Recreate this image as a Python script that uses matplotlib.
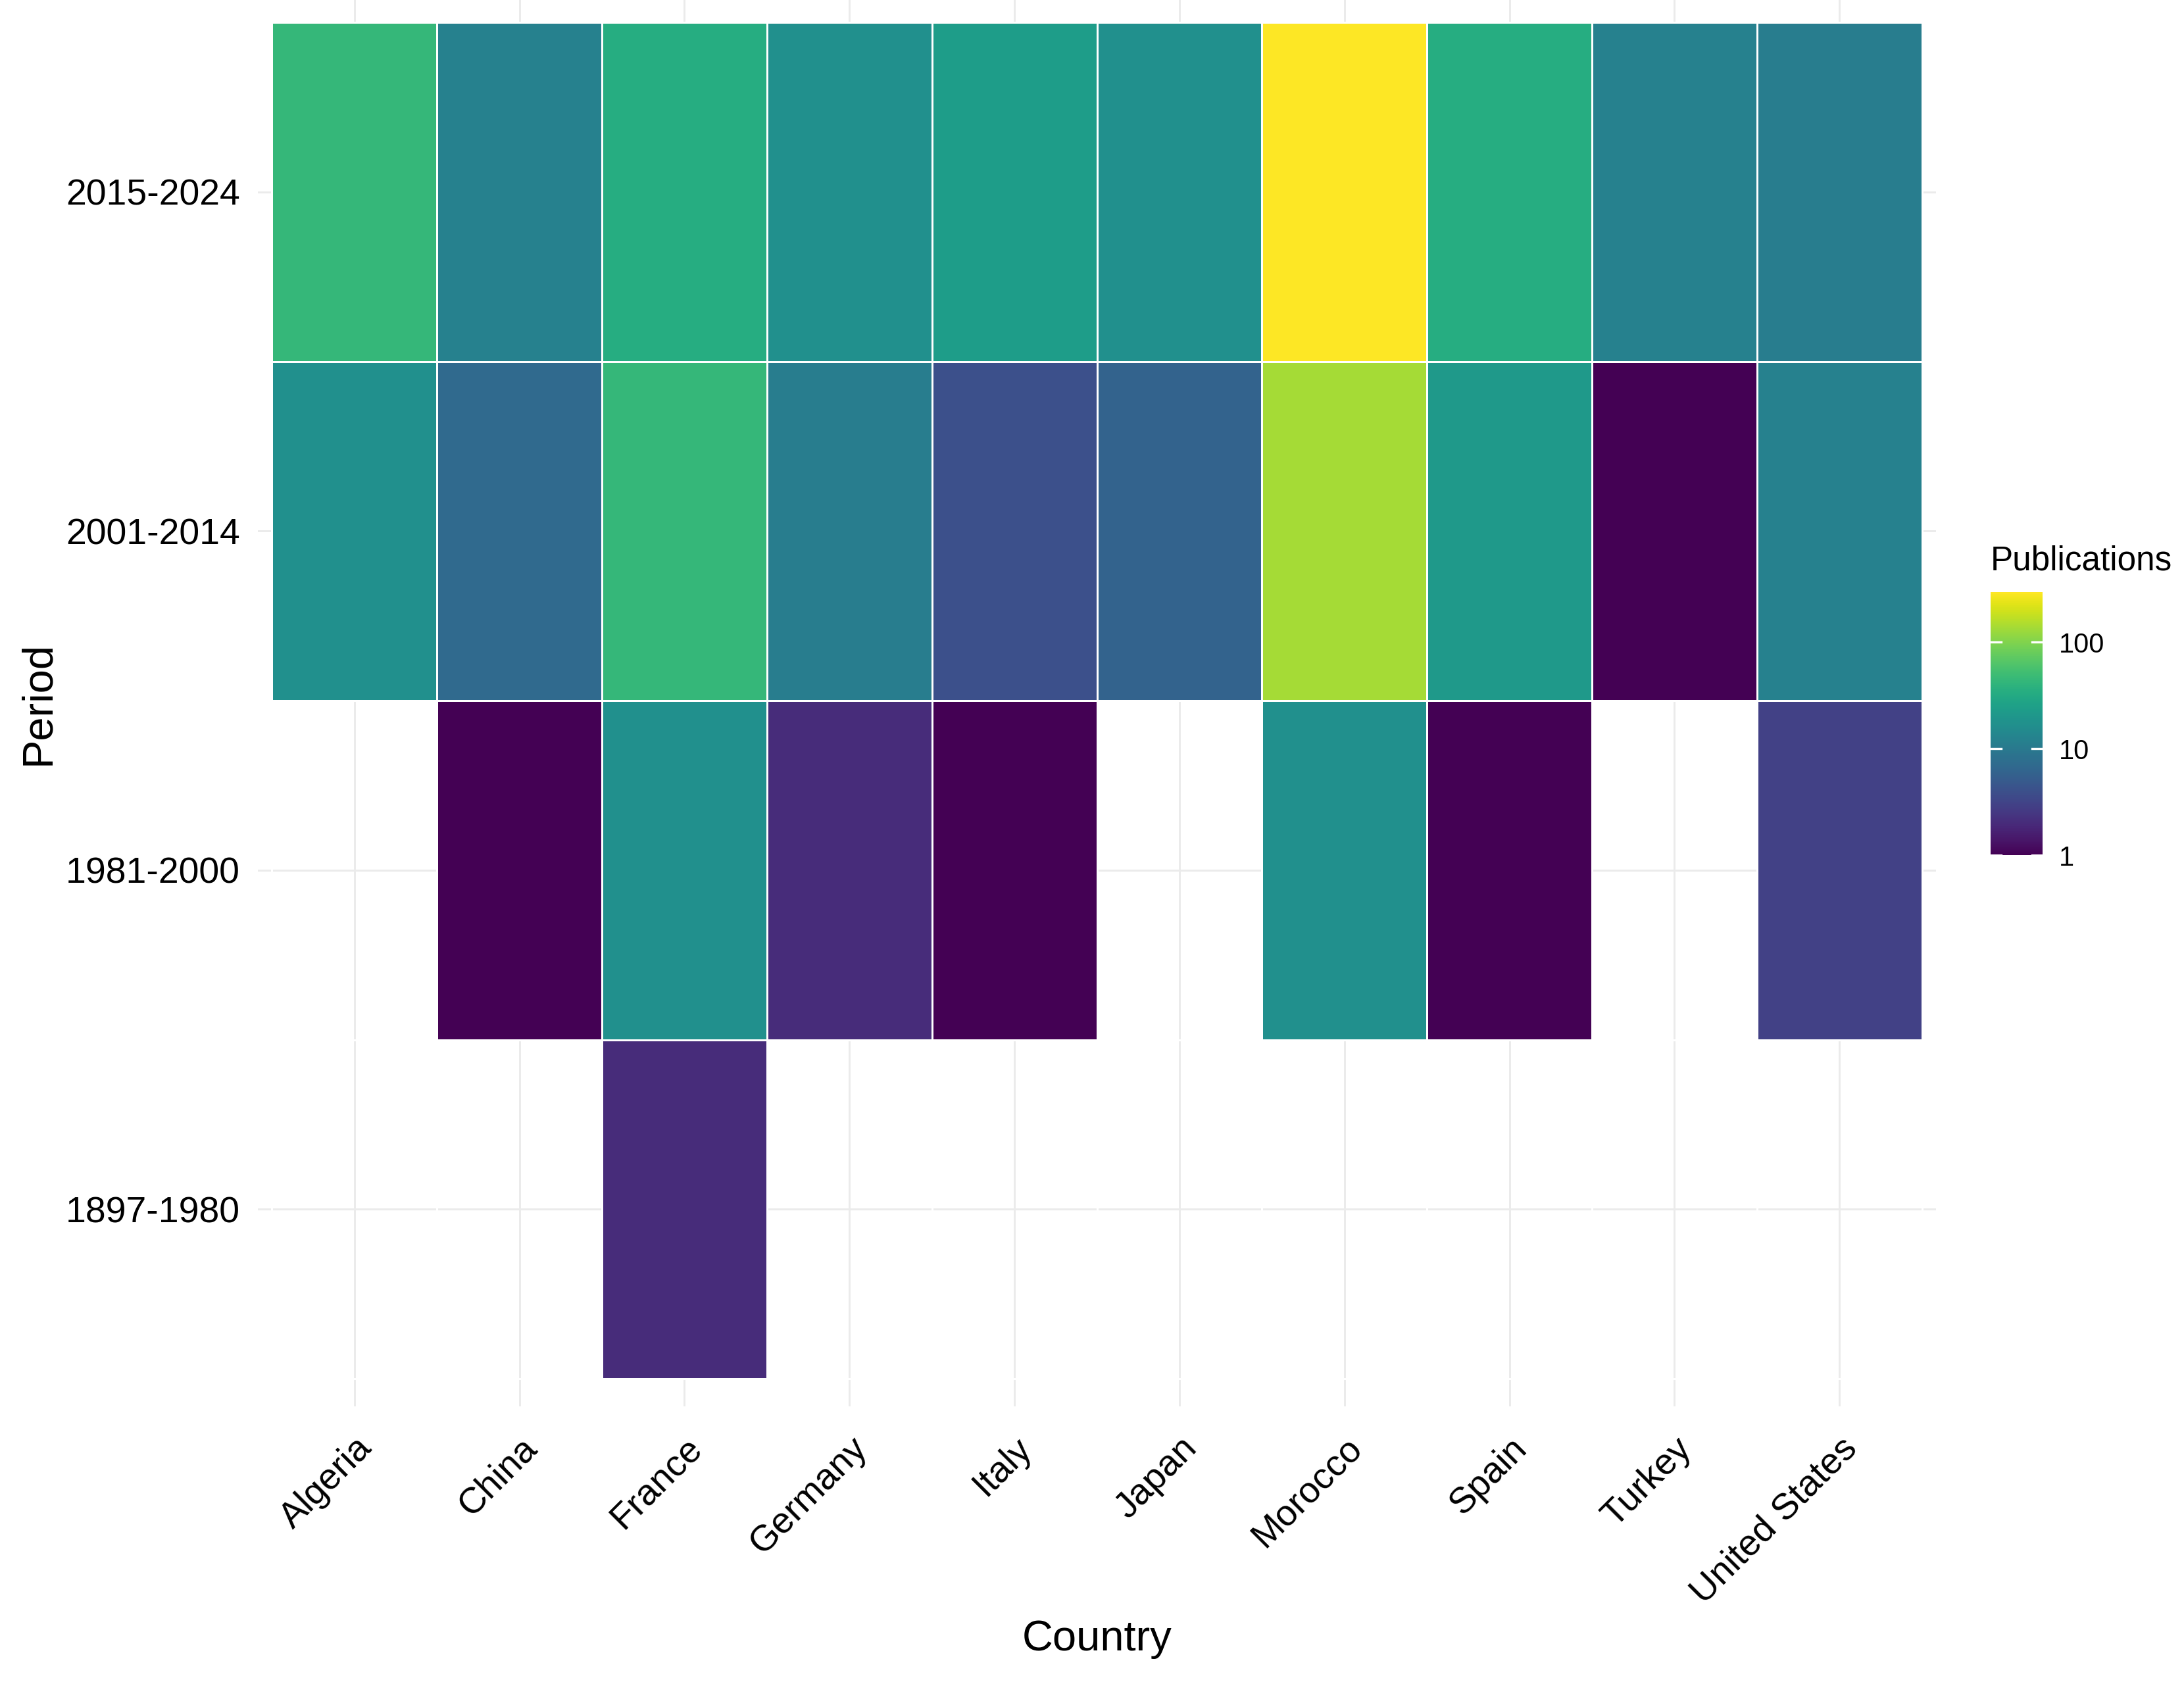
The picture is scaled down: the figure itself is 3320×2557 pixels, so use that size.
import numpy as np
import matplotlib
matplotlib.use("Agg")
import matplotlib.pyplot as plt
from matplotlib.colors import LogNorm
import matplotlib.transforms as mtransforms

countries = ["Algeria", "China", "France", "Germany", "Italy", "Japan",
             "Morocco", "Spain", "Turkey", "United States"]
periods = ["1897-1980", "1981-2000", "2001-2014", "2015-2024"]  # bottom to top

# Publications per period (NaN = no data)
p_1897_1980 = [np.nan, np.nan, 2, np.nan, np.nan, np.nan, np.nan, np.nan, np.nan, np.nan]
p_1981_2000 = [np.nan, 1, 17, 2, 1, np.nan, 17, 1, np.nan, 3]
p_2001_2014 = [17, 7, 44, 11, 4, 6, 137, 21, 1, 12]
p_2015_2024 = [44, 12, 34, 17, 23, 17, 295, 34, 12, 11]

colorbar_ticks = [1, 10, 100]

plt.rcParams['font.family'] = ['Liberation Sans', 'DejaVu Sans']

W, H = 3320, 2557
fig = plt.figure(figsize=(W / 300, H / 300), dpi=300)
ax = fig.add_axes([392 / W, 1 - 2138 / H, (2943 - 392) / W, 2138 / H])

data = np.ma.masked_invalid(np.array([p_1897_1980, p_1981_2000, p_2001_2014, p_2015_2024], dtype=float))
vmax = np.nanmax(data.filled(np.nan))
norm = LogNorm(vmin=1, vmax=vmax)

nx, ny = len(countries), len(periods)
xe = np.arange(nx + 1) - 0.5
ye = np.arange(ny + 1) - 0.5

# grid lines
for i in range(nx):
    ax.axvline(i, color='#ebebeb', lw=0.7, zorder=0)
for j in range(ny):
    ax.axhline(j, color='#ebebeb', lw=0.7, zorder=0)

mesh = ax.pcolormesh(xe, ye, data, cmap='viridis', norm=norm,
                     edgecolors='white', linewidth=0.3, zorder=2)

ax.set_xlim(-0.5 - 0.085, nx - 0.5 + 0.085)
ax.set_ylim(-0.5 - 0.081, ny - 0.5 + 0.066)

ax.set_xticks(range(nx))
ax.set_xticklabels(countries, rotation=45, ha='right', va='top',
                   rotation_mode='anchor', fontsize=13.3, color='black')
ax.set_yticks(range(ny))
ax.set_yticklabels(periods, fontsize=13.3, color='black')
ax.tick_params(axis='both', length=0)
ax.tick_params(axis='y', pad=6.5)
ax.tick_params(axis='x', pad=9)
for s in ax.spines.values():
    s.set_visible(False)

ax.set_xlabel("Country", fontsize=15.6, labelpad=3.5)
ax.set_ylabel("Period", fontsize=15.6)
ax.yaxis.set_label_coords(-0.119, 0.5)

# colorbar
cax = fig.add_axes([3026 / W, 1 - 1300 / H, 79 / W, 400 / H])
cb = fig.colorbar(mesh, cax=cax)
cb.outline.set_visible(False)
cb.set_ticks(colorbar_ticks)
cb.set_ticklabels([str(t) for t in colorbar_ticks])
cb.minorticks_off()
cax.tick_params(length=0, labelsize=10, pad=6, colors='black')
trans = mtransforms.blended_transform_factory(cax.transAxes, cax.transData)
for t in colorbar_ticks:
    cax.plot([0, 0.2], [t, t], color='white', lw=0.8, transform=trans, clip_on=False)
    cax.plot([0.8, 1.0], [t, t], color='white', lw=0.8, transform=trans, clip_on=False)
fig.text(3026 / W, 1 - 853 / H, "Publications", fontsize=12.3,
         ha='left', va='center')

fig.savefig("out.png", dpi=300, facecolor='white')
